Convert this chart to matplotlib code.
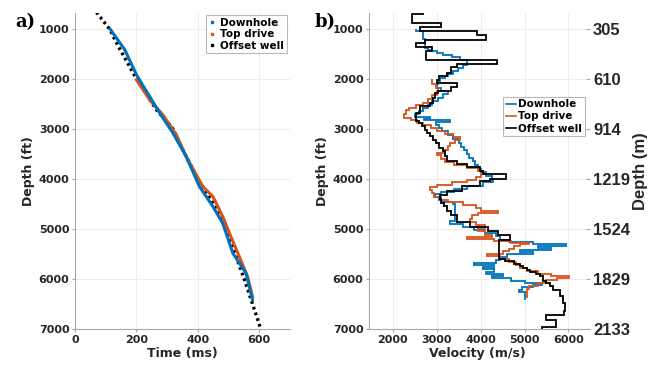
import numpy as np
import matplotlib
matplotlib.use('Agg')
import matplotlib.pyplot as plt
from matplotlib.lines import Line2D

plt.rcParams['font.family'] = 'DejaVu Sans'
plt.rcParams['font.weight'] = 'bold'
plt.rcParams['axes.labelweight'] = 'bold'

# a) time-depth curves
dh_time = [114, 162, 200, 243, 276, 319, 362, 405, 449, 481, 514, 557, 578]
dh_depth = [1000, 1414, 1915, 2350, 2682, 3083, 3550, 4150, 4550, 4885, 5486, 5886, 6420]
td_time = [200, 243, 286, 330, 362, 416, 449, 481, 503, 535, 562, 578]
td_depth = [2015, 2415, 2716, 3116, 3550, 4150, 4350, 4752, 5085, 5553, 5953, 6354]
off_time = [70, 114, 141, 200, 265, 319, 351, 400, 449, 492, 551, 605]
off_depth = [666, 1013, 1347, 1995, 2615, 2996, 3417, 4000, 4485, 5000, 6000, 7000]

# b) interval velocity profiles (layer edges in ft, velocity in m/s)
dh_edges = [1000, 1040, 1200, 1380, 1420, 1450, 1480, 1520, 1560, 1620,
            1680, 1720, 1780, 1840, 1910, 1950, 1990, 2040, 2100, 2180,
            2250, 2300, 2380, 2450, 2520, 2580, 2640, 2700, 2760, 2800,
            2830, 2870, 2920, 2980, 3050, 3120, 3200, 3280, 3360, 3430,
            3500, 3580, 3650, 3720, 3800, 3870, 3950, 4020, 4070, 4150,
            4210, 4260, 4300, 4360, 4420, 4460, 4500, 4850, 4900, 4960,
            5020, 5080, 5150, 5220, 5260, 5300, 5340, 5380, 5420, 5460,
            5500, 5560, 5620, 5680, 5720, 5770, 5810, 5860, 5900, 5940,
            5990, 6050, 6080, 6120, 6170, 6220, 6260, 6420]
dh_vel = [2530, 2700, 2735, 2800, 2890, 3000, 3150, 3340, 3530, 3680,
          3700, 3600, 3490, 3380, 3260, 3190, 3080, 3040, 3000, 3100,
          3250, 3150, 3040, 2900, 2800, 2700, 2600, 2510, 2850, 2720,
          3300, 2980, 3050, 3130, 3250, 3380, 3500, 3560, 3620, 3700,
          3740, 3820, 3880, 3950, 4020, 4120, 4250, 4290, 4050, 3700,
          3400, 3100, 2970, 3050, 3150, 3380, 3420, 3300, 3600, 3850,
          4100, 4350, 4440, 4650, 5200, 5950, 5300, 5600, 4900, 5200,
          4600, 4450, 4350, 3850, 4300, 4050, 4300, 4120, 4500, 4250,
          4700, 5000, 5400, 5200, 4950, 4880, 5000]

td_edges = [2000, 2100, 2180, 2250, 2320, 2400, 2480, 2530, 2580, 2630,
            2700, 2790, 2830, 2880, 2930, 2980, 3040, 3100, 3160, 3230,
            3290, 3350, 3420, 3490, 3530, 3600, 3660, 3720, 3780, 3850,
            3900, 3960, 4020, 4070, 4120, 4170, 4220, 4290, 4360, 4420,
            4470, 4530, 4590, 4640, 4680, 4720, 4800, 4870, 4930, 4990,
            5050, 5120, 5170, 5200, 5240, 5280, 5310, 5340, 5400, 5440,
            5500, 5540, 5600, 5660, 5720, 5780, 5840, 5900, 5940, 5980,
            6030, 6080, 6140, 6200, 6380]
td_vel = [2900, 2980, 3020, 3000, 2900, 2800, 2700, 2540, 2380, 2300,
          2250, 2420, 2560, 2700, 2870, 3000, 3200, 3380, 3530, 3420,
          3300, 3250, 3150, 3000, 3100, 3200, 3400, 3680, 3950, 4060,
          4000, 3900, 3700, 3350, 3000, 2850, 2900, 2950, 3100, 3250,
          3600, 3900, 4000, 4400, 3950, 3800, 3750, 3900, 4100, 3950,
          4100, 4250, 3700, 4300, 4700, 5100, 4900, 4750, 4650, 4500,
          4150, 4450, 4650, 4800, 4900, 5050, 5300, 5600, 6020, 5750,
          5500, 5300, 5100, 5050]

ow_edges = [680, 693, 880, 960, 1047, 1127, 1213, 1280, 1367, 1447,
            1613, 1693, 1767, 1880, 1947, 2013, 2080, 2167, 2233, 2280,
            2380, 2480, 2547, 2680, 2833, 2880, 2947, 3013, 3080, 3147,
            3213, 3280, 3380, 3447, 3547, 3633, 3700, 3753, 3847, 3900,
            3993, 4047, 4147, 4247, 4313, 4400, 4480, 4550, 4650, 4720,
            4853, 4967, 5033, 5113, 5220, 5600, 5650, 5700, 5750, 5790,
            5830, 5870, 5900, 5950, 6047, 6080, 6150, 6213, 6347, 6480,
            6647, 6720, 6820, 6953, 7000]
ow_vel = [2700, 2447, 3090, 2614, 3910, 4120, 2735, 2530, 2890, 2760,
          4365, 3460, 3330, 3230, 3060, 3000, 3470, 3320, 3040, 2960,
          2920, 2850, 2620, 2530, 2600, 2660, 2735, 2775, 2850, 2925,
          2985, 3060, 3135, 3190, 3230, 3455, 3680, 3985, 4050, 4576,
          4210, 3985, 3570, 3230, 3075, 3110, 3170, 3240, 3330, 3460,
          3760, 4174, 4400, 4670, 4410, 4550, 4750, 4900, 4970, 5050,
          5130, 5270, 5350, 5430, 5500, 5580, 5650, 5800, 5880, 5920,
          5900, 5480, 5720, 5400]

depth_ticks = [1000, 2000, 3000, 4000, 5000, 6000, 7000]
meter_labels = ['305', '610', '914', '1219', '1524', '1829', '2133']
labels = ['Downhole', 'Top drive', 'Offset well']

BLUE = '#0072BD'
ORANGE = '#D95319'
GRID = '#ededed'
SPINE = '#a8a8a8'
TXT = '#262626'

fig = plt.figure(figsize=(6.62, 3.69), dpi=100)
axa = fig.add_axes([75/662, 1-329/369, 215/662, 316/369])
axb = fig.add_axes([369/662, 1-329/369, 217/662, 316/369])


def style(ax):
    for s in ['top', 'right']:
        ax.spines[s].set_visible(False)
    for s in ['left', 'bottom']:
        ax.spines[s].set_color(SPINE)
        ax.spines[s].set_linewidth(0.8)
    ax.grid(True, color=GRID, lw=0.8)
    ax.set_axisbelow(True)
    ax.tick_params(colors=SPINE, labelcolor=TXT, labelsize=8, length=2, width=0.8, pad=2)
    ax.set_ylim(7000, 680)
    ax.set_yticks(depth_ticks)


# panel a
style(axa)
axa.plot(off_time, off_depth, color='k', ls=(0, (0.8, 1.0)), lw=2.4)
axa.plot(td_time, td_depth, color=ORANGE, lw=2.2)
axa.plot(dh_time, dh_depth, color=BLUE, lw=2.2)
axa.set_xlim(0, 700)
axa.set_xticks([0, 200, 400, 600])
axa.set_xlabel('Time (ms)', fontsize=9, color=TXT, labelpad=2)
axa.set_ylabel('Depth (ft)', fontsize=9, color=TXT, labelpad=3)
h = [Line2D([], [], ls='none', marker='s', ms=2, color=c) for c in [BLUE, ORANGE, 'k']]
leg = axa.legend(h, labels, loc='upper right', bbox_to_anchor=(0.995, 1.0), fontsize=7.5,
                 frameon=True, fancybox=False, edgecolor=SPINE, borderpad=0.25,
                 handlelength=0.6, handletextpad=0.5, labelspacing=0.15, borderaxespad=0.2)
leg.get_frame().set_linewidth(0.8)

# panel b
style(axb)
axb.stairs(dh_vel, dh_edges, orientation='horizontal', baseline=None, color=BLUE, lw=1.3, label=labels[0])
axb.stairs(td_vel, td_edges, orientation='horizontal', baseline=None, color=ORANGE, lw=1.3, label=labels[1])
axb.stairs(ow_vel, ow_edges, orientation='horizontal', baseline=None, color='k', lw=1.3, label=labels[2])
axb.set_xlim(1460, 6400)
axb.set_xticks([2000, 3000, 4000, 5000, 6000])
axb.set_xlabel('Velocity (m/s)', fontsize=9, color=TXT, labelpad=2)
axb.set_ylabel('Depth (ft)', fontsize=9, color=TXT, labelpad=3)
h = [Line2D([], [], color=c, lw=1.2) for c in [BLUE, ORANGE, 'k']]
leg = axb.legend(h, labels, loc='upper right', bbox_to_anchor=(0.995, 0.735), fontsize=7.5,
                 frameon=True, fancybox=False, edgecolor=SPINE, borderpad=0.25,
                 handlelength=1.0, handletextpad=0.2, labelspacing=0.2, borderaxespad=0.0)
leg.get_frame().set_linewidth(0.8)

axr = axb.twinx()
for s in axr.spines.values():
    s.set_visible(False)
axr.set_ylim(7000, 680)
axr.set_yticks(depth_ticks)
axr.set_yticklabels(meter_labels, family='Liberation Sans', fontsize=12, fontweight='bold', color=TXT)
axr.tick_params(axis='y', colors=SPINE, labelcolor=TXT, length=3, width=0.8, pad=2)
axr.set_ylabel('Depth (m)', family='Liberation Sans', fontsize=12, fontweight='bold', color=TXT, labelpad=2)

fig.text(15/662, 1-22/369, 'a)', family='DejaVu Serif', fontsize=13, fontweight='bold', va='center')
fig.text(315/662, 1-22/369, 'b)', family='DejaVu Serif', fontsize=13, fontweight='bold', va='center')

fig.savefig('out.png', dpi=100)
